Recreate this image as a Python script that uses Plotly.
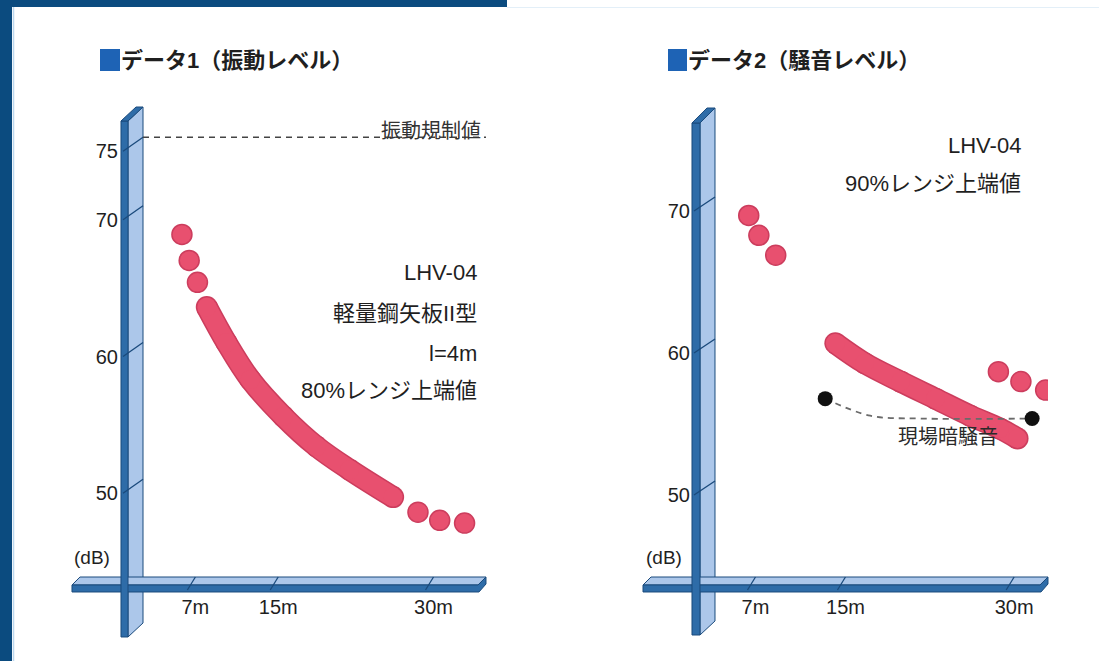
import plotly.graph_objects as go

W, H = 1099, 661

# ---------------- data ----------------
dist_ticks = [7, 15, 30]
dist_ticktext = ["7m", "15m", "30m"]
vib_ticks = [50, 60, 70, 75]
vib_ticktext = ["50", "60", "70", "75"]
noise_ticks = [50, 60, 70]
noise_ticktext = ["50", "60", "70"]
vib_limit = 75

vib_head_x = [5.7, 6.4, 7.2]
vib_head_y = [67.9, 66.0, 64.4]
vib_band_x = [8.1, 10.0, 12.3, 15.5, 18.7, 21.9, 26.1]
vib_band_y = [62.6, 60.0, 57.3, 54.6, 52.4, 50.7, 48.7]
vib_tail_x = [28.5, 30.6, 33.0]
vib_tail_y = [47.6, 47.0, 46.8]

noise_head_x = [6.4, 7.3, 8.8]
noise_head_y = [68.7, 67.3, 65.9]
noise_band_x = [14.1, 16.7, 19.9, 23.0, 26.1, 28.7, 30.3]
noise_band_y = [59.7, 58.3, 57.0, 55.8, 54.6, 53.7, 53.0]
noise_tail_x = [28.6, 30.6, 32.8]
noise_tail_y = [57.7, 57.0, 56.4]
bg_x = [13.2, 31.6]
bg_y = [55.8, 54.4]
bg_line_x = [13.2, 17.2, 21.6, 31.6]
bg_line_y = [55.8, 54.6, 54.4, 54.4]

vib_note = ["LHV-04", "軽量鋼矢板II型", "l=4m", "80%レンジ上端値"]
noise_note = ["LHV-04", "90%レンジ上端値"]

# ---------------- style ----------------
FONT = "Liberation Sans, Noto Sans CJK JP, sans-serif"
TXT = "#1f1f1f"
PINK = "#e8506f"
PINK_EDGE = "#cc3d5d"
FACE = "#acc7ea"
DARK = "#2e6ca8"
EDGE = "#1a4a7c"
FRAME = "#0b4b7f"


def px(x):
    return x / W


def py(y):
    return 1 - y / H


def path(pts):
    s = "M " + " L ".join(f"{px(a):.5f},{py(b):.5f}" for a, b in pts) + " Z"
    return s


fig = go.Figure()


def add_set(hx, hy, bx, by, tx, ty, xa, ya):
    fig.add_trace(go.Scatter(x=bx, y=by, xaxis=xa, yaxis=ya, mode="lines+markers",
                             line=dict(color=PINK_EDGE, width=22, shape="spline"),
                             marker=dict(size=22, color=PINK_EDGE), hoverinfo="skip"))
    fig.add_trace(go.Scatter(x=bx, y=by, xaxis=xa, yaxis=ya, mode="lines+markers",
                             line=dict(color=PINK, width=19, shape="spline"),
                             marker=dict(size=19, color=PINK), hoverinfo="skip"))
    for xs, ys in ((hx, hy), (tx, ty)):
        fig.add_trace(go.Scatter(x=xs, y=ys, xaxis=xa, yaxis=ya, mode="markers",
                                 marker=dict(size=20, color=PINK,
                                             line=dict(color=PINK_EDGE, width=1.5)),
                                 hoverinfo="skip"))


add_set(vib_head_x, vib_head_y, vib_band_x, vib_band_y, vib_tail_x, vib_tail_y, "x", "y")
add_set(noise_head_x, noise_head_y, noise_band_x, noise_band_y, noise_tail_x, noise_tail_y, "x2", "y2")

fig.add_trace(go.Scatter(x=bg_line_x, y=bg_line_y, xaxis="x2", yaxis="y2", mode="lines",
                         line=dict(color="#6a6a6a", width=1.8, dash="6px,5px", shape="spline"),
                         hoverinfo="skip"))
fig.add_trace(go.Scatter(x=bg_x, y=bg_y, xaxis="x2", yaxis="y2", mode="markers",
                         marker=dict(size=15, color="#111111"), hoverinfo="skip"))

shapes = []
# frame
shapes.append(dict(type="rect", xref="paper", yref="paper", x0=0, x1=px(507), y0=py(7), y1=1,
                   fillcolor=FRAME, line_width=0, layer="below"))
shapes.append(dict(type="rect", xref="paper", yref="paper", x0=0, x1=px(12), y0=0, y1=1,
                   fillcolor=FRAME, line_width=0, layer="below"))
shapes.append(dict(type="line", xref="paper", yref="paper", x0=px(13.5), x1=px(13.5), y0=0, y1=py(7),
                   line=dict(color="#bcd8ee", width=1.5), layer="below"))
shapes.append(dict(type="line", xref="paper", yref="paper", x0=px(507), x1=1, y0=py(7.5), y1=py(7.5),
                   line=dict(color="#e3eff8", width=1), layer="below"))


def axis_bars(yx0, yx1, yx2, ytop_f, ytop_b, ybot_f, ybot_b, xl, xr):
    out = []
    out.append(dict(type="path", xref="paper", yref="paper",
                    path=path([(yx1, ytop_f), (yx2, ytop_b), (yx2, ybot_b), (yx1, ybot_f)]),
                    fillcolor=FACE, line=dict(color=EDGE, width=1), layer="below"))
    out.append(dict(type="path", xref="paper", yref="paper",
                    path=path([(xl + 8, 577), (xr, 577), (xr - 8, 585), (xl, 585)]),
                    fillcolor=FACE, line=dict(color=EDGE, width=1), layer="below"))
    out.append(dict(type="path", xref="paper", yref="paper",
                    path=path([(xl, 585), (xr - 8, 585), (xr, 577), (xr, 584), (xr - 7, 592), (xl, 592)]),
                    fillcolor=DARK, line=dict(color=EDGE, width=1), layer="below"))
    out.append(dict(type="path", xref="paper", yref="paper",
                    path=path([(yx0, ytop_f), (yx1, ytop_f), (yx1, ybot_f), (yx0, ybot_f)]),
                    fillcolor=DARK, line=dict(color=EDGE, width=1), layer="below"))
    out.append(dict(type="path", xref="paper", yref="paper",
                    path=path([(yx0, ytop_f), (yx2 - (yx1 - yx0), ytop_b), (yx2, ytop_b), (yx1, ytop_f)]),
                    fillcolor=DARK, line=dict(color=EDGE, width=1), layer="below"))
    return out


shapes += axis_bars(121, 128, 143, 121, 107, 637, 623, 72, 486)
shapes += axis_bars(692, 700, 715, 123, 108, 635, 621, 643, 1048)

for v in vib_ticks:
    shapes.append(dict(type="line", xref="paper", yref="y", ysizemode="pixel", yanchor=v,
                       x0=px(143), x1=px(123), y0=0, y1=-14, line=dict(color=EDGE, width=1.3)))
for v in noise_ticks:
    shapes.append(dict(type="line", xref="paper", yref="y2", ysizemode="pixel", yanchor=v,
                       x0=px(715), x1=px(694), y0=0, y1=-14, line=dict(color=EDGE, width=1.3)))
for xa in ("x", "x2"):
    for v in dist_ticks:
        shapes.append(dict(type="line", xref=xa, yref="paper", xsizemode="pixel", xanchor=v,
                           x0=0, x1=-8, y0=py(577), y1=py(590), line=dict(color=EDGE, width=1.3)))

shapes.append(dict(type="line", xref="x domain", yref="y", x0=0, x1=1, y0=vib_limit, y1=vib_limit,
                   line=dict(color="#444444", width=1.5, dash="6px,5px")))

shapes.append(dict(type="rect", xref="paper", yref="paper", x0=px(100), x1=px(120), y0=py(71), y1=py(49),
                   fillcolor="#1e63b5", line_width=0))
shapes.append(dict(type="rect", xref="paper", yref="paper", x0=px(668), x1=px(687), y0=py(71), y1=py(49),
                   fillcolor="#1e63b5", line_width=0))

ann = []


def text(s, x, y, size, anchor="left", color=TXT):
    ann.append(dict(text=s, x=px(x), y=py(y), xref="paper", yref="paper",
                    xanchor=anchor, yanchor="middle", showarrow=False,
                    font=dict(family=FONT, size=size, color=color)))


text("<b>データ1（振動レベル）</b>", 119, 60, 22)
text("<b>データ2（騒音レベル）</b>", 686, 60, 22)
for line, yy in zip(vib_note, [272, 313, 353, 390]):
    text(line, 479, yy, 22, anchor="right")
for line, yy in zip(noise_note, [145, 183]):
    text(line, 1023, yy, 22, anchor="right")
text("(dB)", 92, 557, 19, anchor="center")
text("(dB)", 664, 557, 19, anchor="center")
text("振動規制値", 483, 131, 20, anchor="right", color="#333333")
text("現場暗騒音", 948, 437, 20, anchor="center", color="#2a2a2a")

tickfont = dict(family=FONT, size=20, color=TXT)
common = dict(showgrid=False, zeroline=False, showline=False, ticks="", tickfont=tickfont,
              automargin=False, fixedrange=True)

fig.update_layout(
    width=W, height=H,
    margin=dict(l=0, r=0, t=0, b=0),
    paper_bgcolor="white", plot_bgcolor="rgba(0,0,0,0)",
    showlegend=False,
    xaxis=dict(domain=[px(143), px(486)], range=[1.94, 35.07], anchor="y",
               tickvals=dist_ticks, ticktext=dist_ticktext, ticklabelstandoff=16, **common),
    yaxis=dict(domain=[py(577), py(100)], range=[42.86, 77.73], anchor="x",
               tickvals=vib_ticks, ticktext=vib_ticktext, ticklabelstandoff=24,
               ticklabelshift=14, **common),
    xaxis2=dict(domain=[px(715), px(1048)], range=[3.40, 33.01], anchor="y2",
                tickvals=dist_ticks, ticktext=dist_ticktext, ticklabelstandoff=16, **common),
    yaxis2=dict(domain=[py(577), py(100)], range=[43.24, 76.83], anchor="x2",
                tickvals=noise_ticks, ticktext=noise_ticktext, ticklabelstandoff=24,
                ticklabelshift=14, **common),
    shapes=shapes,
    annotations=ann,
)

fig.write_html("out.html", config={"displayModeBar": False},
               post_script="document.body.style.margin='0';document.body.style.padding='0';"
                           "document.body.style.overflow='hidden';")
